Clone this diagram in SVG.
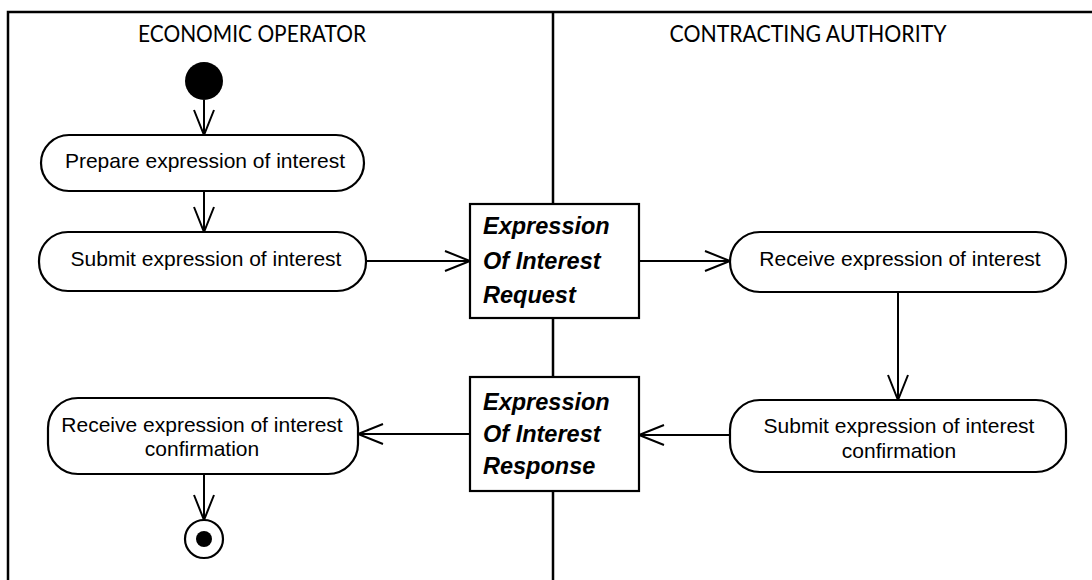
<svg xmlns="http://www.w3.org/2000/svg" width="1092" height="580" viewBox="0 0 1092 580">
<style>
.frame{fill:none;stroke:#000;stroke-width:2.5}
.act{fill:#fff;stroke:#000;stroke-width:2.2}
.obj{fill:#fff;stroke:#000;stroke-width:2.2}
.lbl{font-family:"Liberation Sans",Arial,sans-serif;font-size:21px;fill:#000;text-anchor:middle}
.olbl{font-family:"Liberation Sans",Arial,sans-serif;font-size:23.5px;font-weight:bold;font-style:italic;fill:#000}
.hdr{font-family:Lato,"Open Sans",sans-serif;font-size:23px;fill:#000;text-anchor:middle}
.conn{fill:none;stroke:#000;stroke-width:2;marker-end:url(#arr)}
</style>
<defs>
<marker id="arr" markerUnits="userSpaceOnUse" markerWidth="30" markerHeight="26" viewBox="-2 -3 30 26" refX="25" refY="10" orient="auto">
<path d="M0,0 L25,10 L0,20" fill="none" stroke="#000" stroke-width="2"/>
</marker>
</defs>
<rect width="1092" height="580" fill="#fff"/>
<g id="lanes">
<path class="frame" d="M8,582 L8,12 L1094,12"/>
<path class="frame" d="M553,12 L553,582"/>
<text class="hdr" x="252" y="42" textLength="228" lengthAdjust="spacingAndGlyphs">ECONOMIC OPERATOR</text>
<text class="hdr" x="808" y="42" textLength="277" lengthAdjust="spacingAndGlyphs">CONTRACTING AUTHORITY</text>
</g>
<g id="connectors">
<line class="conn" x1="204" y1="100" x2="204" y2="135"/>
<line class="conn" x1="204" y1="191" x2="204" y2="232"/>
<line class="conn" x1="366" y1="261" x2="470" y2="261"/>
<line class="conn" x1="639" y1="261" x2="730" y2="261"/>
<line class="conn" x1="898" y1="292" x2="898" y2="400"/>
<line class="conn" x1="730" y1="435" x2="639" y2="435"/>
<line class="conn" x1="470" y1="434" x2="358" y2="434"/>
<line class="conn" x1="204" y1="474" x2="204" y2="520"/>
</g>
<g id="start"><circle cx="204" cy="81" r="19" fill="#000"/></g>
<g id="prepare">
<rect class="act" x="41" y="135" width="323" height="56" rx="28" ry="28"/>
<text class="lbl" x="205" y="168">Prepare expression of interest</text>
</g>
<g id="submit">
<rect class="act" x="39" y="232" width="327" height="59" rx="29" ry="29"/>
<text class="lbl" x="206" y="266">Submit expression of interest</text>
</g>
<g id="request">
<rect class="obj" x="470" y="204" width="169" height="114"/>
<text class="olbl" x="483" y="234">Expression</text>
<text class="olbl" x="483" y="269">Of Interest</text>
<text class="olbl" x="483" y="303">Request</text>
</g>
<g id="receive">
<rect class="act" x="730" y="232" width="336" height="60" rx="30" ry="30"/>
<text class="lbl" x="900" y="266">Receive expression of interest</text>
</g>
<g id="submitConf">
<rect class="act" x="730" y="400" width="336" height="72" rx="30" ry="30"/>
<text class="lbl" x="899" y="433">Submit expression of interest</text>
<text class="lbl" x="899" y="458">confirmation</text>
</g>
<g id="response">
<rect class="obj" x="470" y="377" width="169" height="114"/>
<text class="olbl" x="483" y="410">Expression</text>
<text class="olbl" x="483" y="442">Of Interest</text>
<text class="olbl" x="483" y="474">Response</text>
</g>
<g id="receiveConf">
<rect class="act" x="48" y="398" width="310" height="76" rx="30" ry="30"/>
<text class="lbl" x="202" y="432">Receive expression of interest</text>
<text class="lbl" x="202" y="456">confirmation</text>
</g>
<g id="end">
<circle cx="204" cy="539" r="19" fill="#fff" stroke="#000" stroke-width="2.2"/>
<circle cx="204" cy="539" r="8" fill="#000"/>
</g>
</svg>
